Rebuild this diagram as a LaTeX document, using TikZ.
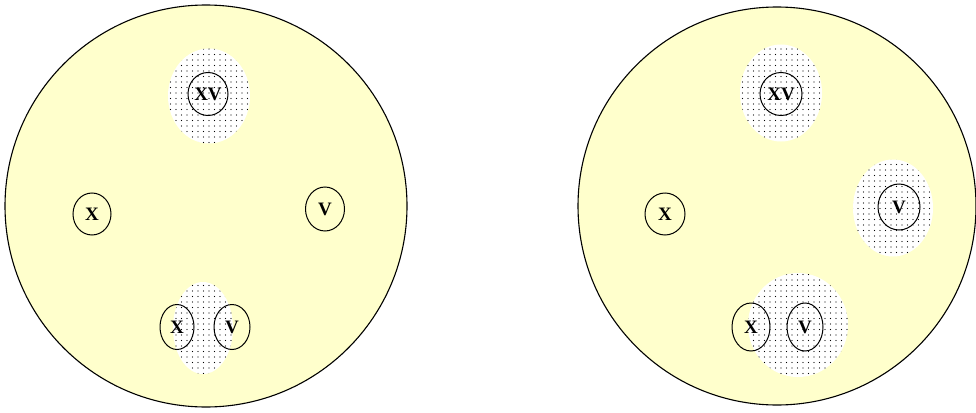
\documentclass[tikz,border=0pt]{standalone}
\usepackage{fontspec}
\setmainfont{Liberation Serif}
\usetikzlibrary{shapes.geometric,patterns.meta}
\definecolor{paleyellow}{HTML}{FFFFCC}
\begin{document}
\begin{tikzpicture}[x=1pt,y=-1pt,
  plate/.style={circle,draw=black,line width=1.1pt,fill=paleyellow,inner sep=0pt},
  blob/.style={ellipse,fill=white,inner sep=0pt,
    postaction={pattern={Dots[radius=0.6pt,distance=5.5pt]},pattern color=black}},
  ring/.style={ellipse,draw=black,line width=1pt,inner sep=0pt,
    font=\fontsize{19}{19}\selectfont\bfseries}]
\useasboundingbox (0,0) rectangle (976,412);
% left plate
\node[plate,minimum size=402pt] (L) at (206,206) {};
\node[blob,minimum width=82pt,minimum height=95pt] (Lb1) at (209,96) {};
\node[blob,minimum width=60pt,minimum height=92pt] (Lb2) at (203,328) {};
\node[ring,minimum width=40pt,minimum height=43pt] (Lxv) at (208,94) {XV};
\node[ring,minimum width=38pt,minimum height=42pt] (Lx) at (92,214) {X};
\node[ring,minimum width=39pt,minimum height=44pt] (Lv) at (325,209) {V};
\node[ring,minimum width=34pt,minimum height=45pt] (Lx2) at (177,327) {X};
\node[ring,minimum width=36pt,minimum height=45pt] (Lv2) at (232,327) {V};
% right plate
\node[plate,minimum size=398pt] (R) at (777,206) {};
\node[blob,minimum width=82pt,minimum height=97pt] (Rb1) at (781,93) {};
\node[blob,minimum width=80pt,minimum height=97pt] (Rb2) at (893,208) {};
\node[blob,minimum width=100pt,minimum height=104pt] (Rb3) at (798,325) {};
\node[ring,minimum width=42pt,minimum height=43pt] (Rxv) at (781,94) {XV};
\node[ring,minimum width=42pt,minimum height=46pt] (Rv) at (899,207) {V};
\node[ring,minimum width=40pt,minimum height=42pt] (Rx) at (665,214) {X};
\node[ring,minimum width=38pt,minimum height=48pt] (Rx2) at (751,327) {X};
\node[ring,minimum width=36pt,minimum height=48pt] (Rv2) at (805,327) {V};
\end{tikzpicture}
\end{document}
